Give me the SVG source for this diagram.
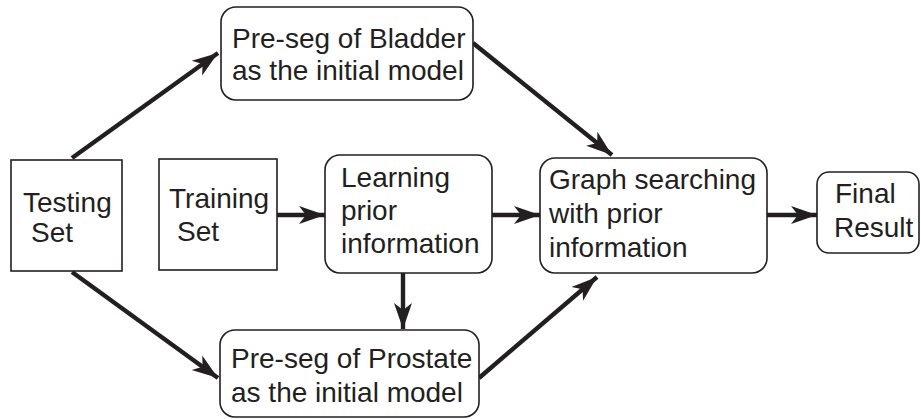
<svg xmlns="http://www.w3.org/2000/svg" width="921" height="419" viewBox="0 0 921 419">
<defs>
<style>
.box{fill:#ffffff;stroke:#231f20;stroke-width:1.6}
.t{font-family:"Liberation Sans",Arial,sans-serif;font-size:28px;fill:#231f20}
.c{stroke:#231f20;stroke-width:4.4;fill:none}
</style>
<marker id="ah" markerUnits="userSpaceOnUse" markerWidth="28" markerHeight="20" refX="26" refY="10" orient="auto">
<path d="M0,1 L26,10 L0,19 L7,10 Z" fill="#231f20"/>
</marker>
</defs>
<rect width="921" height="419" fill="#ffffff"/>
<g id="connectors">
<line class="c" x1="72" y1="158" x2="218" y2="53" marker-end="url(#ah)"/>
<line class="c" x1="473" y1="43" x2="612" y2="155" marker-end="url(#ah)"/>
<line class="c" x1="277" y1="215" x2="325" y2="215" marker-end="url(#ah)"/>
<line class="c" x1="492" y1="215" x2="540" y2="215" marker-end="url(#ah)"/>
<line class="c" x1="767" y1="215" x2="817" y2="215" marker-end="url(#ah)"/>
<line class="c" x1="403" y1="273" x2="403" y2="329" marker-end="url(#ah)"/>
<line class="c" x1="72" y1="272" x2="218" y2="378" marker-end="url(#ah)"/>
<line class="c" x1="479" y1="378" x2="597" y2="277" marker-end="url(#ah)"/>
</g>
<g id="bladder">
<rect class="box" x="221" y="7" width="252" height="93" rx="15"/>
<text class="t" x="232" y="48">Pre-seg of Bladder</text>
<text class="t" x="232" y="80">as the initial model</text>
</g>
<g id="testing">
<rect class="box" x="11" y="160" width="111" height="111"/>
<text class="t" x="23" y="212">Testing</text>
<text class="t" x="31" y="242">Set</text>
</g>
<g id="training">
<rect class="box" x="159" y="159" width="118" height="111"/>
<text class="t" x="169" y="208">Training</text>
<text class="t" x="177" y="241">Set</text>
</g>
<g id="learning">
<rect class="box" x="325" y="155" width="167" height="118" rx="15"/>
<text class="t" x="341" y="187">Learning</text>
<text class="t" x="341" y="220">prior</text>
<text class="t" x="341" y="253">information</text>
</g>
<g id="graph">
<rect class="box" x="540" y="158" width="227" height="115" rx="15"/>
<text class="t" x="549" y="189">Graph searching</text>
<text class="t" x="549" y="223">with prior</text>
<text class="t" x="549" y="257">information</text>
</g>
<g id="final">
<rect class="box" x="817" y="172" width="102" height="81" rx="12"/>
<text class="t" x="835" y="203">Final</text>
<text class="t" x="834" y="237">Result</text>
</g>
<g id="prostate">
<rect class="box" x="220" y="330" width="259" height="87" rx="15"/>
<text class="t" x="231" y="368">Pre-seg of Prostate</text>
<text class="t" x="231" y="402">as the initial model</text>
</g>
</svg>
